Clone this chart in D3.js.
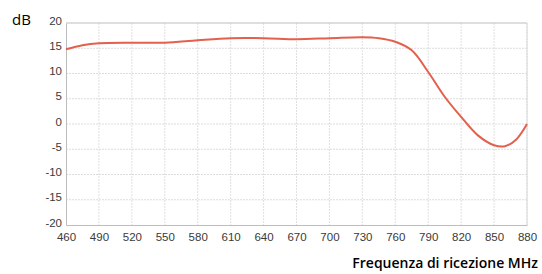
<!DOCTYPE html>
<html>
<head>
<meta charset="utf-8">
<script src="https://d3js.org/d3.v7.min.js"></script>
<style>
  body { margin: 0; background: #fff; }
  svg { display: block; }
</style>
</head>
<body>
<script>
// frequency (MHz) and gain (dB)
var freqs = [460, 475, 490, 520, 550, 580, 610, 640, 670, 700, 730, 745, 760, 775, 790, 805, 820, 835, 850, 860, 870, 880];
var gains = [14.8, 15.6, 16.0, 16.1, 16.1, 16.6, 17.0, 17.0, 16.8, 17.0, 17.2, 17.0, 16.3, 14.6, 10.3, 5.4, 1.4, -2.2, -4.2, -4.4, -3.1, 0];
var xTicks = [460, 490, 520, 550, 580, 610, 640, 670, 700, 730, 760, 790, 820, 850, 880];
var yTicks = [20, 15, 10, 5, 0, -5, -10, -15, -20];

var width = 542, height = 274;
var m = { left: 66, right: 527, top: 23, bottom: 225 };

var svg = d3.select("body").append("svg")
    .attr("width", width)
    .attr("height", height);

var x = d3.scaleLinear().domain([460, 880]).range([m.left, m.right]);
var y = d3.scaleLinear().domain([-20, 20]).range([m.bottom, m.top]);

// grid
svg.append("g").selectAll("line")
    .data(xTicks.slice(1))
  .enter().append("line")
    .attr("x1", function(d) { return x(d); })
    .attr("x2", function(d) { return x(d); })
    .attr("y1", m.top)
    .attr("y2", m.bottom)
    .attr("stroke", "#e0e0e0")
    .attr("stroke-dasharray", "2,1");

svg.append("g").selectAll("line")
    .data(yTicks.slice(1, -1))
  .enter().append("line")
    .attr("x1", m.left)
    .attr("x2", m.right)
    .attr("y1", function(d) { return y(d); })
    .attr("y2", function(d) { return y(d); })
    .attr("stroke", "#dcdcdc")
    .attr("stroke-dasharray", "2,1");

// frame
svg.append("line").attr("x1", m.left).attr("x2", m.right).attr("y1", m.top).attr("y2", m.top)
    .attr("stroke", "#bdbdbd");
svg.append("line").attr("x1", m.right).attr("x2", m.right).attr("y1", m.top).attr("y2", m.bottom)
    .attr("stroke", "#d8d8d8");

// axes (plain hyphen for negatives, as in the picture)
var xAxis = svg.append("g")
    .attr("transform", "translate(0," + m.bottom + ")")
    .call(d3.axisBottom(x).tickValues(xTicks).tickFormat(String).tickSize(0).tickPadding(8));
var yAxis = svg.append("g")
    .attr("transform", "translate(" + m.left + ",0)")
    .call(d3.axisLeft(y).tickValues(yTicks).tickFormat(String).tickSize(0).tickPadding(4));

[xAxis, yAxis].forEach(function(a) {
  a.select(".domain").attr("stroke", "#bdbdbd");
  a.selectAll("text")
      .attr("fill", "#3a3a3a")
      .style("font-family", "Liberation Sans, Arial, sans-serif")
      .style("font-size", "11.5px");
});
yAxis.selectAll("text").attr("dy", "0.1em");

// curve
var pts = freqs.map(function(f, i) { return [f, gains[i]]; });
svg.append("path")
    .datum(pts)
    .attr("fill", "none")
    .attr("stroke", "#e2604e")
    .attr("stroke-width", 2)
    .attr("d", d3.line()
      .x(function(d) { return x(d[0]); })
      .y(function(d) { return y(d[1]); })
      .curve(d3.curveCatmullRom.alpha(0.5)));

// labels
svg.append("text")
    .attr("x", 12).attr("y", 25)
    .style("font-family", "Open Sans, sans-serif")
    .style("font-size", "15px")
    .style("font-weight", 400)
    .text("dB");

svg.append("text")
    .attr("x", 538).attr("y", 268)
    .attr("text-anchor", "end")
    .style("font-family", "Open Sans, sans-serif")
    .style("font-size", "14px")
    .style("font-weight", 600)
    .text("Frequenza di ricezione MHz");
</script>
</body>
</html>
